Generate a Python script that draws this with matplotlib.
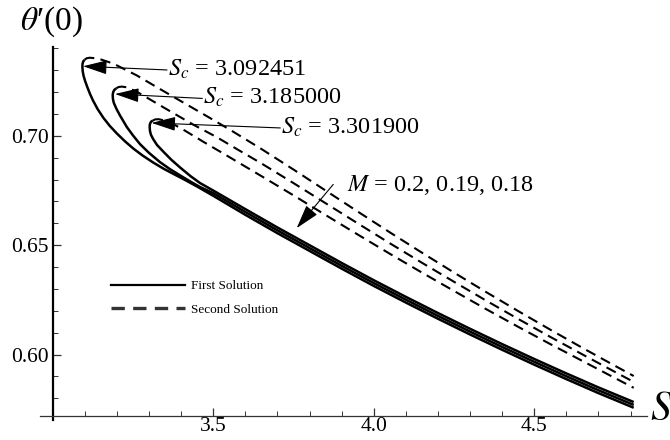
import numpy as np
import matplotlib
matplotlib.use("Agg")
import matplotlib.pyplot as plt
from matplotlib.lines import Line2D
from matplotlib.ticker import MultipleLocator, FixedLocator

plt.rcParams['font.family'] = ['Liberation Serif', 'DejaVu Serif']
plt.rcParams['mathtext.fontset'] = 'stix'

# ---- data (S, theta'(0)) ----
# shared lower part of the first-solution curves
S_band = [3.6, 3.7, 3.8, 3.9, 4.0, 4.1, 4.2, 4.3, 4.4, 4.5, 4.6, 4.7, 4.81]

# M = 0.2, Sc = 3.092451
S1_first = [3.099, 3.095, 3.0928, 3.0925, 3.0935, 3.096, 3.101, 3.108, 3.116, 3.126,
            3.14, 3.158, 3.178, 3.199, 3.225, 3.251, 3.28, 3.313, 3.345, 3.376,
            3.41, 3.45, 3.5] + S_band
t1_first = [0.7347, 0.7340, 0.7328, 0.7315, 0.7295, 0.7275, 0.7250, 0.7222, 0.7192, 0.7160,
            0.7122, 0.7082, 0.7045, 0.7012, 0.6975, 0.6942, 0.6910, 0.6878, 0.6850, 0.6826,
            0.6800, 0.6768, 0.6726,
            0.6639, 0.6555, 0.6474, 0.6393, 0.6314, 0.6238, 0.6164, 0.6092, 0.6022,
            0.5954, 0.5888, 0.5824, 0.5757]
S1_second = [3.099, 3.105, 3.115, 3.13, 3.15, 3.189, 3.262, 3.334, 3.407, 3.48, 3.552,
             3.65, 3.75, 3.85, 3.95, 4.05, 4.15, 4.25, 4.35, 4.45, 4.55, 4.65, 4.75, 4.81]
t1_second = [0.7347, 0.7354, 0.7357, 0.7355, 0.7349, 0.7330, 0.7276, 0.7214, 0.7152, 0.7090, 0.7028,
             0.6940, 0.6846, 0.6750, 0.6654, 0.6559, 0.6466, 0.6375, 0.6286, 0.6199,
             0.6114, 0.6031, 0.5950, 0.5902]

# M = 0.19, Sc = 3.185000
S2_first = [3.198, 3.192, 3.1885, 3.187, 3.1875, 3.190, 3.195, 3.199, 3.21, 3.231,
            3.25, 3.272, 3.30, 3.334, 3.365, 3.397, 3.43, 3.459, 3.5] + S_band
t2_first = [0.7217, 0.7210, 0.7200, 0.7188, 0.7170, 0.7152, 0.7135, 0.7122, 0.7092, 0.7040,
            0.7002, 0.6962, 0.6922, 0.6880, 0.6848, 0.6819, 0.6790, 0.6766, 0.6738,
            0.6652, 0.6568, 0.6487, 0.6406, 0.6327, 0.6251, 0.6177, 0.6105, 0.6035,
            0.5967, 0.5901, 0.5837, 0.5770]
S2_second = [3.198, 3.205, 3.215, 3.23, 3.26, 3.293, 3.365, 3.438, 3.511, 3.573,
             3.65, 3.75, 3.85, 3.95, 4.05, 4.15, 4.25, 4.35, 4.45, 4.55, 4.65, 4.75, 4.81]
t2_second = [0.7217, 0.7223, 0.7225, 0.7222, 0.7203, 0.7175, 0.7113, 0.7051, 0.6994, 0.6940,
             0.6874, 0.6784, 0.6692, 0.6600, 0.6509, 0.6420, 0.6333, 0.6247, 0.6163,
             0.6081, 0.6001, 0.5922, 0.5875]

# M = 0.18, Sc = 3.301900
S3_first = [3.312, 3.306, 3.3025, 3.302, 3.303, 3.306, 3.313, 3.325, 3.345, 3.37,
            3.397, 3.43, 3.459, 3.5] + S_band
t3_first = [0.7070, 0.7064, 0.7052, 0.7040, 0.7022, 0.7005, 0.6985, 0.6958, 0.6927, 0.6890,
            0.6855, 0.6815, 0.6784, 0.6750,
            0.6665, 0.6581, 0.6500, 0.6419, 0.6340, 0.6264, 0.6190, 0.6118, 0.6048,
            0.5980, 0.5914, 0.5850, 0.5783]
S3_second = [3.312, 3.319, 3.33, 3.345, 3.37, 3.407, 3.469, 3.542,
             3.65, 3.75, 3.85, 3.95, 4.05, 4.15, 4.25, 4.35, 4.45, 4.55, 4.65, 4.75, 4.81]
t3_second = [0.7070, 0.7075, 0.7076, 0.7071, 0.7058, 0.7028, 0.6973, 0.6910,
             0.6816, 0.6728, 0.6638, 0.6549, 0.6461, 0.6375, 0.6291, 0.6208, 0.6127,
             0.6048, 0.5971, 0.5894, 0.5848]

Sc_labels = ["3.092451", "3.185000", "3.301900"]
Sc_tips = [(3.0944, 0.7318), (3.194, 0.7191), (3.308, 0.7059)]
Sc_text = [(3.356, 0.7301), (3.466, 0.7171), (3.709, 0.7036)]

x_major = [3.5, 4.0, 4.5]
y_major = [0.60, 0.65, 0.70]

fig = plt.figure(figsize=(6.7, 4.4), dpi=100)
ax = fig.add_axes([40/670, 20/440, 607/670, 373/440])
ax.set_xlim(2.9604, 4.8514)
ax.set_ylim(0.5701, 0.7406)

first = [(S1_first, t1_first), (S2_first, t2_first), (S3_first, t3_first)]
second = [(S1_second, t1_second), (S2_second, t2_second), (S3_second, t3_second)]
for s, t in first:
    ax.plot(s, t, color='black', lw=1.8, solid_capstyle='butt')
for s, t in second:
    ax.plot(s, t, color='black', lw=1.5, dashes=(5, 3))

# axes crossing like Mathematica
for side in ['top', 'right']:
    ax.spines[side].set_visible(False)
ax.spines['left'].set_position(('data', 3.0))
ax.spines['bottom'].set_position(('data', 0.5721))
ax.spines['left'].set_linewidth(1.6)
ax.spines['bottom'].set_linewidth(0.9)
ax.spines['bottom'].set_color('#333333')

ax.xaxis.set_major_locator(FixedLocator(x_major))
ax.xaxis.set_minor_locator(MultipleLocator(0.1))
ax.yaxis.set_major_locator(FixedLocator(y_major))
ax.yaxis.set_minor_locator(MultipleLocator(0.01))
ax.xaxis.set_major_formatter(plt.FuncFormatter(lambda v, p: f"{v:.1f}"))
ax.yaxis.set_major_formatter(plt.FuncFormatter(lambda v, p: f"{v:.2f}"))
ax.tick_params(which='both', direction='in', color='#333333', labelsize=15.5)
ax.tick_params(which='major', length=6, width=0.9)
ax.tick_params(axis='x', which='major', pad=1)
ax.tick_params(axis='y', which='major', pad=3)
ax.tick_params(which='minor', length=3.5, width=0.7)

for lab, tip, txt in zip(Sc_labels, Sc_tips, Sc_text):
    ax.annotate("", xy=tip, xytext=txt,
                arrowprops=dict(arrowstyle="-|>,head_length=0.75,head_width=0.22",
                                mutation_scale=20, color='#444444', lw=0.8,
                                fc='black', ec='black', shrinkA=0, shrinkB=0))
    ax.text(txt[0] + 0.002, txt[1] + 0.0004, r"$S_c$ = " + lab, fontsize=17.5,
            ha='left', va='center')

ax.annotate("", xy=(3.760, 0.6578), xytext=(3.874, 0.6778),
            arrowprops=dict(arrowstyle="-|>,head_length=0.75,head_width=0.22",
                            mutation_scale=20, color='#666666', lw=0.8,
                            fc='black', ec='black', shrinkA=0, shrinkB=0))
ax.text(3.916, 0.6773, r"$M$ = 0.2, 0.19, 0.18", fontsize=17.5, ha='left', va='center')

handles = [Line2D([], [], color='black', lw=1.6),
           Line2D([], [], color='#333333', lw=2.4, dashes=(4, 2.5))]
ax.legend(handles, ["First Solution", "Second Solution"], loc='upper left',
          bbox_to_anchor=(111/670, 1 - 280/440), bbox_transform=fig.transFigure,
          frameon=False, fontsize=9.5, handlelength=5.6, handletextpad=0.45,
          labelspacing=0.85, borderpad=0, borderaxespad=0)

fig.text(20/670, 1 - 22/440, "$\\theta$\u2032(0)", fontsize=24, ha='left', va='center')
fig.text(650/670, 1 - 410/440, r"$S$", fontsize=30, ha='left', va='center')

fig.savefig("out.png", dpi=100)
